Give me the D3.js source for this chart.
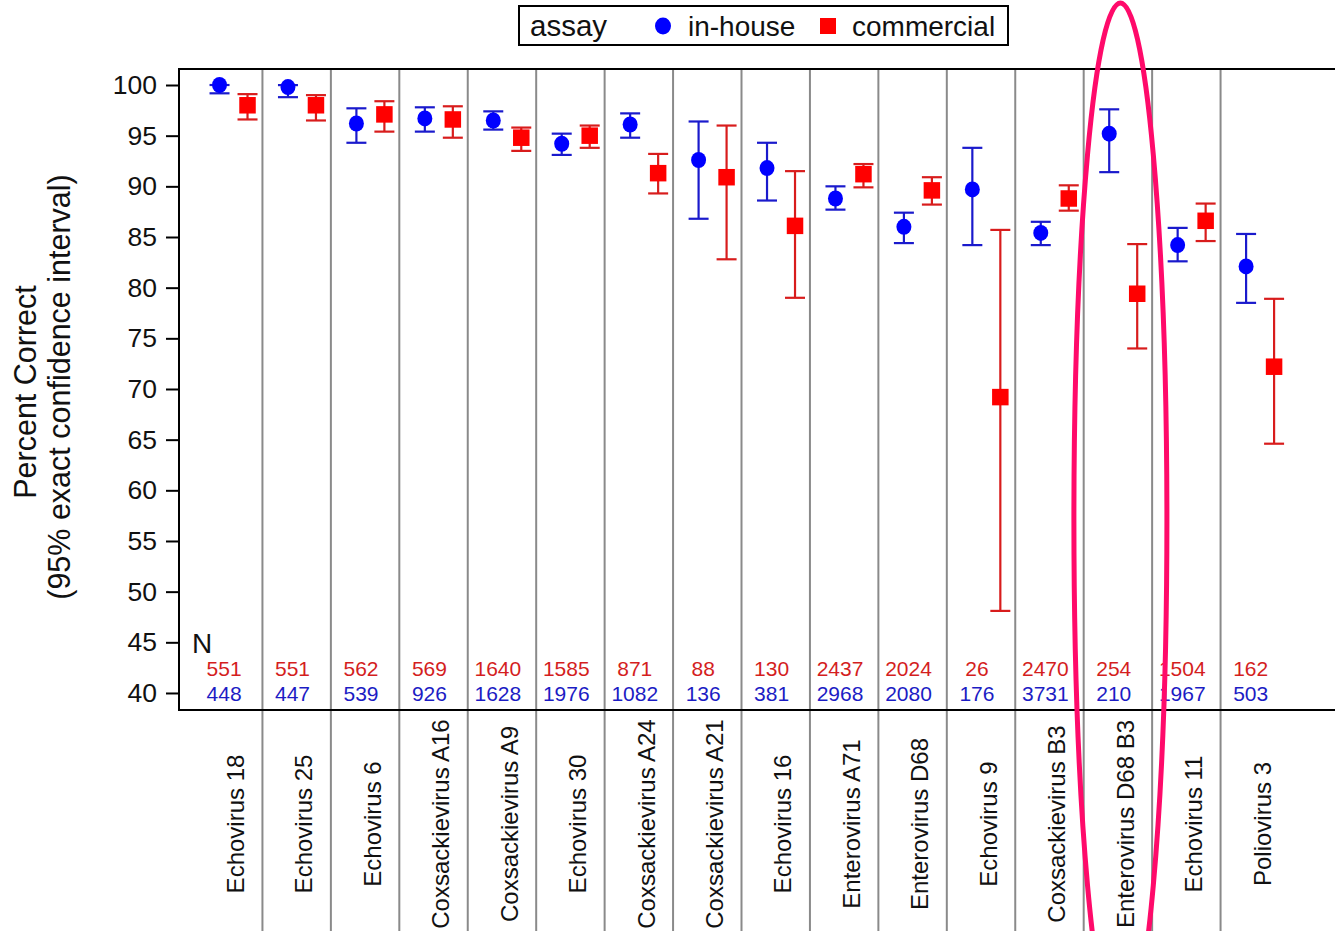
<!DOCTYPE html>
<html>
<head>
<meta charset="utf-8">
<script src="https://cdn.jsdelivr.net/npm/d3@7"></script>
<style>
  html, body { margin: 0; padding: 0; background: #fff; }
  svg { display: block; font-family: "Liberation Sans", Arial, sans-serif; }
</style>
</head>
<body>
<svg id="chart" width="1335" height="931"></svg>
<script>
// Serotype categories, in plotted order
const categories = [
  "Echovirus 18", "Echovirus 25", "Echovirus 6", "Coxsackievirus A16",
  "Coxsackievirus A9", "Echovirus 30", "Coxsackievirus A24", "Coxsackievirus A21",
  "Echovirus 16", "Enterovirus A71", "Enterovirus D68", "Echovirus 9",
  "Coxsackievirus B3", "Enterovirus D68 B3", "Echovirus 11", "Poliovirus 3"
];
const assays = ["in-house", "commercial"];

// Percent correct with 95% exact confidence limits
const inhouseEst = [100, 99.8, 96.2, 96.7, 96.5, 94.2, 96.1, 92.6, 91.8, 88.8, 86.0, 89.7, 85.4, 95.2, 84.2, 82.1];
const inhouseLo  = [99.18, 98.8, 94.3, 95.4, 95.6, 93.1, 94.8, 86.8, 88.6, 87.7, 84.4, 84.2, 84.2, 91.4, 82.6, 78.5];
const inhouseHi  = [100, 99.99, 97.7, 97.8, 97.4, 95.2, 97.2, 96.4, 94.3, 90.0, 87.4, 93.8, 86.5, 97.6, 85.9, 85.3];

const commercialEst = [98.0, 98.0, 97.1, 96.6, 94.8, 95.0, 91.3, 90.9, 86.1, 91.2, 89.6, 69.2, 88.8, 79.4, 86.6, 72.2];
const commercialLo  = [96.6, 96.5, 95.4, 94.8, 93.5, 93.8, 89.3, 82.8, 79.0, 89.9, 88.2, 48.1, 87.6, 74.0, 84.6, 64.6];
const commercialHi  = [99.1, 99.0, 98.4, 97.9, 95.8, 96.0, 93.2, 96.0, 91.5, 92.2, 90.9, 85.7, 90.1, 84.3, 88.3, 78.9];

// Number of specimens per assay
const nInhouse    = [448, 447, 539, 926, 1628, 1976, 1082, 136, 381, 2968, 2080, 176, 3731, 210, 1967, 503];
const nCommercial = [551, 551, 562, 569, 1640, 1585, 871, 88, 130, 2437, 2024, 26, 2470, 254, 1504, 162];

const yTicks = [40, 45, 50, 55, 60, 65, 70, 75, 80, 85, 90, 95, 100];
const highlighted = "Enterovirus D68 B3";

const colors = {
  "in-house":   { marker: "#0000ff", bar: "#1a1acc", text: "#1c1cc4" },
  "commercial": { marker: "#ff0000", bar: "#d81c1c", text: "#d41e1e" }
};

const rows = categories.map((c, i) => ({
  cat: c,
  values: [
    { assay: "in-house", est: inhouseEst[i], lo: inhouseLo[i], hi: inhouseHi[i], n: nInhouse[i] },
    { assay: "commercial", est: commercialEst[i], lo: commercialLo[i], hi: commercialHi[i], n: nCommercial[i] }
  ]
}));

const svg = d3.select("#chart");
const W = 1335, H = 931;
const frame = { left: 179, top: 69, bottom: 710 };

const x = d3.scaleBand().domain(categories).range([194, 1289]).padding(0);
const bw = x.bandwidth();
const xSub = d3.scalePoint().domain(assays).range([bw * 0.373, bw * 0.782]);
const y = d3.scaleLinear().domain([38.32, 101.58]).range([frame.bottom, frame.top]);

// Vertical separators between categories, running through the label area
svg.append("g")
  .selectAll("line")
  .data(categories.slice(1))
  .join("line")
  .attr("x1", d => x(d)).attr("x2", d => x(d))
  .attr("y1", frame.top).attr("y2", H)
  .attr("stroke", "#8a8a8a").attr("stroke-width", 2);

// Frame
svg.append("line")
  .attr("x1", frame.left).attr("x2", W + 2).attr("y1", frame.top).attr("y2", frame.top)
  .attr("stroke", "#000").attr("stroke-width", 2);
svg.append("line")
  .attr("x1", frame.left).attr("x2", W + 2).attr("y1", frame.bottom).attr("y2", frame.bottom)
  .attr("stroke", "#000").attr("stroke-width", 2);

// Y axis
const yAxis = svg.append("g")
  .attr("transform", `translate(${frame.left},0)`)
  .call(d3.axisLeft(y).tickValues(yTicks).tickSize(13).tickPadding(9));
yAxis.select(".domain").remove();
yAxis.selectAll(".tick line").attr("stroke", "#000").attr("stroke-width", 2);
yAxis.selectAll(".tick text")
  .attr("fill", "#111").attr("font-size", 26.5)
  .attr("font-family", "'Liberation Sans', Arial, sans-serif");
svg.append("line")
  .attr("x1", frame.left).attr("x2", frame.left)
  .attr("y1", frame.top - 1).attr("y2", frame.bottom + 1)
  .attr("stroke", "#000").attr("stroke-width", 2);

// Y title
const yTitle = svg.append("g").attr("font-size", 30.5).attr("fill", "#111").attr("text-anchor", "middle");
yTitle.append("text").attr("transform", "translate(36,392) rotate(-90)").text("Percent Correct");
yTitle.append("text").attr("transform", "translate(70,387) rotate(-90)").text("(95% exact confidence interval)");

// Category labels
svg.append("g")
  .selectAll("text")
  .data(categories)
  .join("text")
  .attr("transform", d => `translate(${x(d) + bw * 0.73},824) rotate(-90)`)
  .attr("text-anchor", "middle")
  .attr("font-size", 24)
  .attr("fill", "#111")
  .text(d => d);

// Error bars and markers
const groups = svg.append("g")
  .selectAll("g")
  .data(rows)
  .join("g")
  .attr("transform", d => `translate(${x(d.cat)},0)`);

const cap = 10;
const bars = groups.selectAll("g.bar")
  .data(d => d.values)
  .join("g")
  .attr("class", "bar")
  .attr("stroke", d => colors[d.assay].bar)
  .attr("stroke-width", 2.2);
bars.append("line")
  .attr("x1", d => xSub(d.assay)).attr("x2", d => xSub(d.assay))
  .attr("y1", d => y(d.lo)).attr("y2", d => y(d.hi));
bars.append("line")
  .attr("x1", d => xSub(d.assay) - cap).attr("x2", d => xSub(d.assay) + cap)
  .attr("y1", d => y(d.lo)).attr("y2", d => y(d.lo));
bars.append("line")
  .attr("x1", d => xSub(d.assay) - cap).attr("x2", d => xSub(d.assay) + cap)
  .attr("y1", d => y(d.hi)).attr("y2", d => y(d.hi));

groups.selectAll("ellipse")
  .data(d => d.values.filter(v => v.assay === "in-house"))
  .join("ellipse")
  .attr("cx", d => xSub(d.assay)).attr("cy", d => y(d.est))
  .attr("rx", 7.5).attr("ry", 8)
  .attr("fill", colors["in-house"].marker);

const sq = 16.5;
groups.selectAll("rect")
  .data(d => d.values.filter(v => v.assay === "commercial"))
  .join("rect")
  .attr("x", d => xSub(d.assay) - sq / 2).attr("y", d => y(d.est) - sq / 2)
  .attr("width", sq).attr("height", sq)
  .attr("fill", colors["commercial"].marker);

// N counts along the bottom of the plot
svg.append("text").attr("x", 192).attr("y", 653).attr("font-size", 28).attr("fill", "#111").text("N");
const nRows = [
  { assay: "commercial", baseline: 676 },
  { assay: "in-house", baseline: 701 }
];
nRows.forEach(r => {
  svg.append("g")
    .selectAll("text")
    .data(rows)
    .join("text")
    .attr("x", d => x(d.cat) + bw * 0.44)
    .attr("y", r.baseline)
    .attr("text-anchor", "middle")
    .attr("font-size", 21)
    .attr("fill", colors[r.assay].text)
    .text(d => d.values.find(v => v.assay === r.assay).n);
});

// Legend
const legend = svg.append("g").attr("font-size", 28).attr("fill", "#111");
legend.append("rect")
  .attr("x", 519).attr("y", 6).attr("width", 489).attr("height", 39)
  .attr("fill", "#fff").attr("stroke", "#000").attr("stroke-width", 2);
legend.append("text").attr("x", 530).attr("y", 36).attr("font-size", 29.5).text("assay");
legend.append("ellipse").attr("cx", 663).attr("cy", 26).attr("rx", 8).attr("ry", 8.5).attr("fill", colors["in-house"].marker);
legend.append("text").attr("x", 688).attr("y", 36).text("in-house");
legend.append("rect").attr("x", 820).attr("y", 18).attr("width", 16).attr("height", 16).attr("fill", colors["commercial"].marker);
legend.append("text").attr("x", 852).attr("y", 36).text("commercial");

// Highlight ring around one serotype
svg.append("ellipse")
  .attr("cx", x(highlighted) + bw / 2 + 2.5)
  .attr("cy", 520)
  .attr("rx", 46.5)
  .attr("ry", 517)
  .attr("fill", "none")
  .attr("stroke", "#ff0a6a")
  .attr("stroke-width", 5);
</script>
</body>
</html>
